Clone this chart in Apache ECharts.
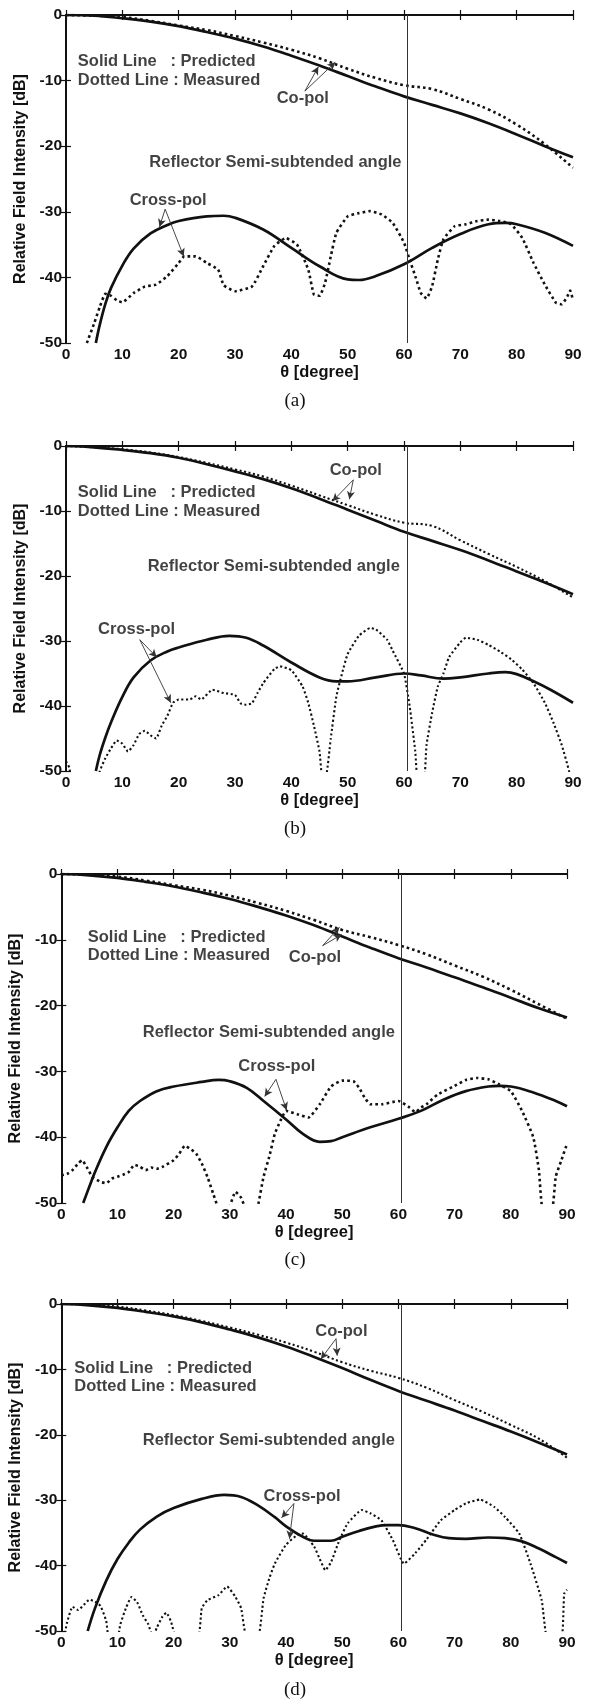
<!DOCTYPE html>
<html>
<head>
<meta charset="utf-8">
<script src="https://cdn.jsdelivr.net/npm/echarts@6/dist/echarts.min.js"></script>
<style>
html,body{margin:0;padding:0;background:#fff;}
#chart{width:590px;height:1700px;}
</style>
</head>
<body>
<div id="chart"></div>
<script>
// ---------- DATA (theta [deg], dB) ----------
const xTicks = [0,10,20,30,40,50,60,70,80,90];
const yTicks = [-50,-40,-30,-20,-10,0];
const reflectorAngle = 60.5;

// Panel (a)
const coPredA = [[0,0],[5,-0.1],[10,-0.5],[15,-1.0],[20,-1.7],[25,-2.6],[30,-3.6],[35,-4.8],[40,-6.2],[45,-7.7],[50,-9.3],[55,-10.9],[60,-12.4],[65,-13.7],[70,-15.0],[75,-16.5],[80,-18.2],[85,-20.0],[90,-21.7]];
const coMeasA = [[0,0],[5,-0.1],[10,-0.3],[15,-0.9],[20,-1.6],[25,-2.3],[30,-3.2],[35,-4.2],[40,-5.3],[45,-6.6],[50,-8.2],[55,-9.6],[60,-10.7],[65,-11.3],[70,-12.8],[75,-14.4],[80,-16.7],[85,-19.7],[90,-23.3]];
const xPredA = [[5.3,-50],[6,-47.2],[7,-44],[8,-41.6],[10,-38.2],[12,-35.6],[15,-33.3],[18,-32],[20,-31.4],[25,-30.7],[28,-30.6],[30,-30.9],[35,-32.7],[40,-35.5],[45,-38.3],[50,-40.3],[52,-40.4],[55,-39.8],[60,-38],[65,-35.5],[70,-33.4],[75,-31.9],[78,-31.7],[80,-31.9],[85,-33.2],[90,-35.2]];
const xMeasA = [[3.7,-50],[5,-47],[6,-44.5],[7,-42.5],[8,-42.8],[9,-43.5],[10,-43.8],[12,-42.4],[14,-41.4],[16,-41.1],[18,-39.8],[20,-37.8],[21,-36.8],[23,-36.8],[25,-37.8],[27,-38.8],[28,-41.2],[30,-42.1],[33,-41.4],[35,-38.3],[37,-35.2],[39,-34],[41,-35],[43,-38.8],[44,-42.6],[45,-42.8],[46,-40.8],[47,-36.8],[48,-33.2],[50,-30.7],[52,-30.2],[54,-29.9],[56,-30.4],[58,-31.7],[60,-34.7],[61,-37.3],[62,-39.8],[63,-42.4],[64,-43.2],[65,-41.3],[66,-37.3],[67,-34.2],[69,-32.2],[71,-31.9],[73,-31.4],[75,-31.2],[77,-31.4],[79,-31.9],[81,-34],[83,-37.8],[85,-41.1],[87,-43.9],[88,-44.1],[89,-42.9],[89.5,-42],[90,-43.5]];

// Panel (b)
const coPredB = [[0,0],[5,-0.2],[10,-0.6],[15,-1.1],[20,-1.8],[25,-2.8],[30,-3.9],[35,-5.1],[40,-6.5],[45,-8.1],[50,-9.8],[55,-11.5],[60,-13.2],[65,-14.6],[70,-16.0],[75,-17.6],[80,-19.3],[85,-21.0],[90,-22.8]];
const coMeasB = [[0,0],[5,-0.2],[10,-0.5],[15,-1.0],[20,-1.7],[25,-2.6],[30,-3.6],[35,-4.7],[40,-6.1],[45,-7.6],[50,-9.1],[55,-10.6],[60,-11.8],[65,-12.3],[70,-14.5],[75,-16.6],[80,-18.6],[85,-20.8],[90,-23.3]];
const xPredB = [[5.3,-50],[6,-47.5],[7,-44.8],[8,-42.5],[10,-38.6],[12,-35.6],[15,-33],[18,-31.6],[20,-31],[25,-29.8],[29,-29.2],[32,-29.5],[35,-30.7],[40,-33.3],[45,-35.6],[48,-36.2],[50,-36.2],[55,-35.6],[60,-35],[63,-35.3],[67,-35.8],[70,-35.6],[75,-35],[78,-34.8],[80,-35.1],[83,-36.2],[86,-37.5],[90,-39.5]];
const xMeasB = [[0,-48.5],[0.6,-49.5],[1.2,-52],[5.5,-52],[6,-50],[7,-48],[8,-46.5],[9,-45.3],[10,-45.8],[11,-47],[12,-46],[13,-44.3],[14,-43.8],[15,-44.5],[16,-45],[17,-43],[18,-41.5],[19,-39.5],[20,-39],[22,-39],[23,-38.5],[24,-39],[26,-37.5],[28,-38],[30,-38.3],[31,-39.6],[32,-39.8],[33,-39.6],[34,-38],[35,-36.5],[37,-34.3],[38,-33.9],[40,-34.5],[42,-37],[43,-39.5],[44,-43],[45,-47],[45.5,-51],[46.1,-51],[47,-45],[48,-38.5],[49,-35],[50,-32],[52,-29.2],[54,-28.0],[55,-28.2],[57,-29.8],[58,-31.5],[60,-35],[61,-40],[62,-47],[62.5,-52],[63.5,-52],[64,-46],[65,-41],[66,-37],[67,-35],[68,-32.5],[70,-30.2],[71,-29.5],[73,-29.8],[75,-30.6],[77,-31.6],[79,-32.8],[81,-34.4],[83,-36.5],[85,-39.5],[86.5,-42.5],[88,-46],[89.3,-50],[90,-53]];

// Panel (c)
const coPredC = [[0,0],[5,-0.2],[10,-0.6],[15,-1.2],[20,-1.9],[25,-2.8],[30,-3.8],[35,-5.0],[40,-6.3],[45,-7.8],[50,-9.5],[55,-11.2],[60,-12.8],[65,-14.2],[70,-15.7],[75,-17.2],[80,-18.8],[85,-20.4],[90,-21.8]];
const coMeasC = [[0,0],[5,-0.1],[10,-0.4],[15,-1.0],[20,-1.7],[25,-2.4],[30,-3.3],[35,-4.4],[40,-5.6],[45,-7.0],[50,-8.5],[55,-9.6],[60,-10.8],[65,-12.2],[70,-13.9],[75,-15.6],[80,-17.6],[85,-19.8],[90,-22.0]];
const xPredC = [[3.9,-50],[5,-47.5],[6,-45.3],[8,-41.5],[10,-38.5],[12,-36],[14,-34.5],[17,-33],[20,-32.3],[25,-31.6],[28,-31.3],[30,-31.5],[33,-32.5],[36,-34.5],[40,-37.3],[43,-39.5],[46,-40.7],[48,-40.6],[50,-40],[55,-38.5],[60,-37.2],[64,-36],[68,-34.3],[72,-33],[76,-32.3],[78,-32.2],[80,-32.3],[84,-33.2],[88,-34.5],[90,-35.3]];
const xMeasC = [[0,-45.8],[1,-45.6],[2,-45],[3,-44],[3.7,-43.5],[4.5,-44.5],[5.5,-46],[7,-46.8],[8,-47],[9,-46.3],[10,-46],[11,-45.7],[12,-45.3],[13,-44.2],[14,-44.5],[15,-45],[16,-44.6],[17,-44.8],[18,-44.5],[20,-43.5],[21,-42.5],[22,-41.3],[23,-41.8],[24,-42.5],[25,-44],[26,-46],[27,-48.5],[28,-51],[29,-53],[30,-50.5],[31,-48.3],[32,-49.2],[32.8,-51],[34,-55],[35,-50.5],[36,-46],[37,-43],[38,-39.5],[39,-37.5],[40,-36],[42,-36.5],[44,-37],[46,-35],[48,-32.3],[50,-31.4],[52,-31.5],[53,-32.5],[54,-34],[55,-35],[57,-35],[60,-34.5],[62,-35.5],[63,-36.2],[64,-35.5],[65,-35],[67,-33.5],[70,-32.2],[72,-31.3],[74,-31],[76,-31.2],[78,-32],[80,-33],[82,-36],[84,-40],[85,-45],[85.7,-51],[87.3,-51],[88,-46],[89,-43.5],[90,-41]];

// Panel (d)
const coPredD = [[0,0],[5,-0.2],[10,-0.6],[15,-1.2],[20,-1.9],[25,-2.8],[30,-3.9],[35,-5.1],[40,-6.5],[45,-8.1],[50,-9.8],[55,-11.6],[60,-13.3],[65,-14.8],[70,-16.3],[75,-17.9],[80,-19.5],[85,-21.2],[90,-23.0]];
const coMeasD = [[0,0],[5,-0.1],[10,-0.4],[15,-1.0],[20,-1.7],[25,-2.6],[30,-3.6],[35,-4.7],[40,-5.9],[45,-7.3],[50,-8.9],[55,-10.2],[60,-11.3],[65,-12.8],[70,-14.7],[75,-16.5],[80,-18.5],[85,-20.6],[90,-23.5]];
const xPredD = [[4.7,-50],[6,-46.5],[8,-42.3],[10,-39],[12,-36.5],[14,-34.5],[17,-32.5],[20,-31.2],[25,-29.8],[29,-29.2],[32,-29.5],[35,-30.8],[38,-32.6],[40,-34],[43,-35.6],[45,-36.2],[48,-36.2],[50,-35.6],[53,-34.7],[56,-34],[58,-33.8],[60,-33.8],[63,-34.3],[66,-35.2],[69,-35.8],[72,-35.9],[76,-35.7],[79,-35.8],[82,-36.3],[85,-37.4],[88,-38.7],[90,-39.6]];
const xMeasD = [[0.5,-51],[1,-48.8],[2,-46.3],[3,-46.8],[4,-46],[5,-45.2],[6,-45.5],[7,-46.2],[8,-48.5],[8.6,-52],[9.8,-52],[10.5,-49],[11.5,-46.5],[12.5,-44.8],[13.5,-45.6],[14.5,-47.6],[15.5,-49],[16.3,-51],[17,-49.5],[18,-47.8],[18.7,-47.2],[19.5,-48.5],[20.5,-51],[24.3,-51],[25,-46.5],[26,-45.3],[28,-44.5],[29.5,-43.2],[31,-44.8],[32,-46.5],[33,-51],[35,-51],[36,-45],[37,-42],[38,-39.7],[40,-36.8],[42,-35.3],[43,-35.1],[45,-37.1],[46,-39],[47,-40.7],[48,-39.5],[49.5,-36.1],[51,-33.5],[53.5,-31.5],[55,-32],[57,-33.1],[59,-36.1],[61,-39.7],[63,-38.1],[65,-36],[67.5,-33.1],[70,-31.5],[72,-30.5],[74.5,-29.9],[77,-31],[79,-32.6],[81.5,-35.1],[83.5,-39.7],[85.5,-45.3],[86.5,-51],[89,-51],[89.5,-44.3],[90,-43.7]];

// ---------- ANNOTATIONS ----------
const notesA = [["Solid Line   : Predicted",2.1,-7.1],["Dotted Line : Measured",2.1,-10.0],["Co-pol",37.4,-12.7],["Reflector Semi-subtended angle",14.8,-22.5],["Cross-pol",11.3,-28.2]];
const arrowsA = [[[42.4,-11.6],[44.8,-7.9]],[[42.4,-11.6],[47.8,-7.2]],[[17.6,-29.6],[16.6,-32.3]],[[17.6,-29.6],[20.9,-36.8]]];
const notesB = [["Co-pol",46.8,-3.8],["Solid Line   : Predicted",2.1,-7.1],["Dotted Line : Measured",2.1,-10.0],["Reflector Semi-subtended angle",14.5,-18.5],["Cross-pol",5.7,-28.3]];
const arrowsB = [[[51,-5.2],[47.3,-8.5]],[[51,-5.2],[50.3,-8.2]],[[13.1,-29.8],[16.1,-32.5]],[[13.1,-29.8],[18.6,-39.5]]];
const notesC = [["Solid Line   : Predicted",4.7,-9.6],["Dotted Line : Measured",4.7,-12.4],["Co-pol",40.5,-12.7],["Reflector Semi-subtended angle",14.5,-24.1],["Cross-pol",31.5,-29.3]];
const arrowsC = [[[46.5,-10.9],[49.5,-8.1]],[[46.5,-10.9],[49.9,-9.2]],[[38.2,-31.2],[36.2,-33.8]],[[38.2,-31.2],[40.1,-35.9]]];
const notesD = [["Co-pol",45.2,-4.2],["Solid Line   : Predicted",2.3,-9.8],["Dotted Line : Measured",2.3,-12.6],["Reflector Semi-subtended angle",14.5,-20.9],["Cross-pol",36,-29.5]];
const arrowsD = [[[48.9,-5.3],[46.2,-8.4]],[[48.9,-5.3],[49.1,-7.9]],[[41.4,-30.5],[39.2,-32.7]],[[41.4,-30.5],[40.6,-35.9]]];

// ---------- LAYOUT ----------
const panels = [
  {grid:{left:66,top:15,width:507,height:328}, coP:coPredA, coM:coMeasA, xP:xPredA, xM:xMeasA, notes:notesA, arrows:arrowsA, cap:'(a)', capY:403, dotW:2.6},
  {grid:{left:66,top:446,width:507,height:325}, coP:coPredB, coM:coMeasB, xP:xPredB, xM:xMeasB, notes:notesB, arrows:arrowsB, cap:'(b)', capY:831, dotW:2.1},
  {grid:{left:59,top:874,width:508,height:329}, coP:coPredC, coM:coMeasC, xP:xPredC, xM:xMeasC, notes:notesC, arrows:arrowsC, cap:'(c)', capY:1262, dotW:2.6},
  {grid:{left:59,top:1304,width:508,height:327}, coP:coPredD, coM:coMeasD, xP:xPredD, xM:xMeasD, notes:notesD, arrows:arrowsD, cap:'(d)', capY:1692, dotW:2.1}
];

const INK = '#111';
const FONT = '"Liberation Sans", Arial, sans-serif';

const option = {animation:false, backgroundColor:'#fff', grid:[], xAxis:[], yAxis:[], series:[], graphic:[]};

panels.forEach((p, i) => {
  option.grid.push(Object.assign({containLabel:false}, p.grid));
  const axLine = {show:true, lineStyle:{color:INK, width:2}};
  const tick = {show:true, inside:true, length:5, lineStyle:{color:INK, width:1.2}};
  const lbl = {color:INK, fontFamily:FONT, fontWeight:'bold', fontSize:15.5};
  option.xAxis.push({type:'value', gridIndex:i, min:xTicks[0], max:xTicks[xTicks.length-1], interval:10, position:'bottom',
    axisLine:axLine, axisTick:tick, splitLine:{show:false},
    axisLabel:Object.assign({margin:4}, lbl),
    name:'\u03b8 [degree]', nameLocation:'middle', nameGap:21,
    nameTextStyle:{color:INK, fontFamily:FONT, fontWeight:'bold', fontSize:16.5}});
  option.xAxis.push({type:'value', gridIndex:i, min:0, max:90, interval:10, position:'top',
    axisLine:axLine, axisTick:tick, splitLine:{show:false}, axisLabel:{show:false}});
  option.yAxis.push({type:'value', gridIndex:i, min:yTicks[0], max:yTicks[yTicks.length-1], interval:10, position:'left',
    axisLine:axLine, axisTick:tick, splitLine:{show:false},
    axisLabel:Object.assign({margin:4}, lbl),
    name:'Relative Field Intensity [dB]', nameLocation:'middle', nameGap:32, nameRotate:90,
    nameTextStyle:{color:INK, fontFamily:FONT, fontWeight:'bold', fontSize:16}});
  option.yAxis.push({type:'value', gridIndex:i, min:-50, max:0, interval:10, position:'right',
    axisLine:axLine, axisTick:tick, splitLine:{show:false}, axisLabel:{show:false}});

  const xi = 2*i, yi = 2*i;
  const solid = {color:INK, width:2.7, type:'solid'};
  const dotted = {color:INK, width:p.dotW, type:[p.dotW, p.dotW*1.2], cap:'butt'};
  const base = {type:'line', xAxisIndex:xi, yAxisIndex:yi, showSymbol:false, symbol:'none', clip:true, silent:true, z:3};

  option.series.push(Object.assign({}, base, {name:'Co-pol predicted', data:p.coP, smooth:0.4, lineStyle:solid,
    markLine:{silent:true, symbol:'none', label:{show:false}, animation:false,
      lineStyle:{color:'#333', width:1, type:'solid'}, data:[{xAxis:reflectorAngle}]}}));
  option.series.push(Object.assign({}, base, {name:'Co-pol measured', data:p.coM, smooth:0.4, lineStyle:dotted}));
  option.series.push(Object.assign({}, base, {name:'Cross-pol predicted', data:p.xP, smooth:0.4, lineStyle:solid}));
  option.series.push(Object.assign({}, base, {name:'Cross-pol measured', data:p.xM, smooth:0.15, lineStyle:dotted}));

  option.series.push({type:'scatter', xAxisIndex:xi, yAxisIndex:yi, silent:true, symbolSize:0, z:5,
    data:p.notes.map(n => ({value:[n[1], n[2]], name:n[0]})),
    label:{show:true, position:'right', distance:0, formatter:(q)=>q.name,
      color:INK, fontFamily:FONT, fontWeight:'bold', fontSize:16.5, align:'left', verticalAlign:'middle'},
    markLine:{silent:true, animation:false, symbol:['none','arrow'], symbolSize:[6,8], label:{show:false},
      lineStyle:{color:'#333', width:0.9, type:'solid'},
      data:p.arrows.map(a => [{coord:a[0]}, {coord:a[1]}])}
  });

  option.graphic.push({type:'text', left:'center', top:p.capY - 11,
    style:{text:p.cap, font:'19px "Liberation Serif", "Times New Roman", serif', fill:INK}});
});

const chart = echarts.init(document.getElementById('chart'), null, {renderer:'canvas'});
chart.setOption(option);
</script>
</body>
</html>
